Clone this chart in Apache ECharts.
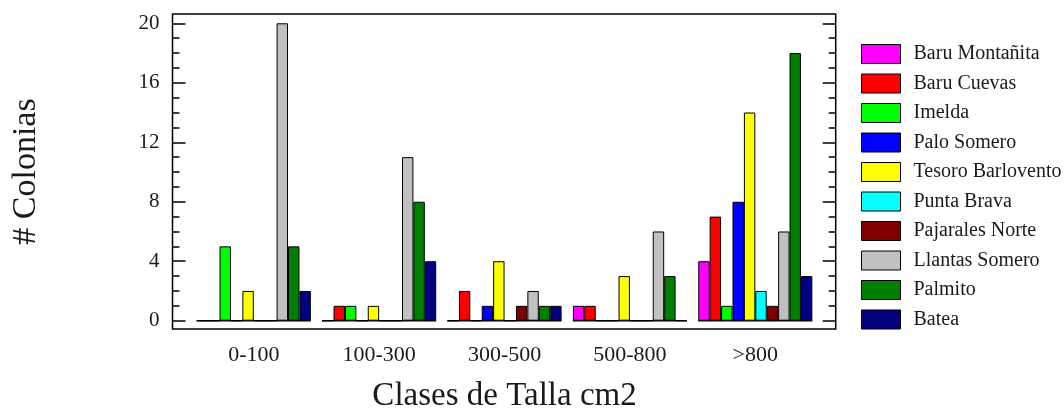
<!DOCTYPE html>
<html>
<head>
<meta charset="utf-8">
<script src="https://cdn.jsdelivr.net/npm/echarts@6/dist/echarts.min.js"></script>
<style>html,body{margin:0;padding:0;background:#fff;}#c{width:1064px;height:412px;}</style>
</head>
<body>
<div id="c"></div>
<script>
const categories = ['0-100', '100-300', '300-500', '500-800', '>800'];
const seriesNames = ['Baru Montañita', 'Baru Cuevas', 'Imelda', 'Palo Somero', 'Tesoro Barlovento', 'Punta Brava', 'Pajarales Norte', 'Llantas Somero', 'Palmito', 'Batea'];
const baruMontanita = [0, 0, 0, 1, 4];
const baruCuevas = [0, 1, 2, 1, 7];
const imelda = [5, 1, 0, 0, 1];
const paloSomero = [0, 0, 1, 0, 8];
const tesoroBarlovento = [2, 1, 4, 3, 14];
const puntaBrava = [0, 0, 0, 0, 2];
const pajaralesNorte = [0, 0, 1, 0, 1];
const llantasSomero = [20, 11, 2, 6, 6];
const palmito = [5, 8, 1, 3, 18];
const batea = [2, 4, 1, 0, 3];
const majorTicks = [0, 4, 8, 12, 16, 20];
const minorTicks = [1, 2, 3, 5, 6, 7, 9, 10, 11, 13, 14, 15, 17, 18, 19];
const colors = ['#ff00ff', '#ff0000', '#00ff00', '#0000ff', '#ffff00', '#00ffff', '#800000', '#c0c0c0', '#008000', '#000080'];

const values = [baruMontanita, baruCuevas, imelda, paloSomero, tesoroBarlovento, puntaBrava, pajaralesNorte, llantasSomero, palmito, batea];
const yMin = -0.558, yMax = 20.625;
const font = '"Liberation Serif", "Times New Roman", serif';
const txt = '#1a1a1a';

const chart = echarts.init(document.getElementById('c'), null, {renderer: 'canvas'});

function yAx(opts) {
  return Object.assign({
    type: 'value', gridIndex: 1, min: yMin, max: yMax,
    axisLine: {show: false}, splitLine: {show: false},
    axisLabel: {show: false}, axisTick: {show: false}
  }, opts);
}

const barSeries = seriesNames.map((n, i) => ({
  name: n, type: 'bar', xAxisIndex: 0, yAxisIndex: 0,
  data: values[i], barGap: '0%', barCategoryGap: '9%',
  itemStyle: {color: colors[i], borderColor: '#000', borderWidth: 1},
  emphasis: {disabled: true}, animation: false, z: 3
}));

const option = {
  animation: false,
  grid: [
    {left: 191.1, right: 246, top: 14, bottom: 83, show: false, containLabel: false, outerBoundsMode: 'none'},
    {left: 172.5, right: 228.3, top: 14, bottom: 83, show: true, borderColor: '#000', borderWidth: 1.5, backgroundColor: 'transparent', containLabel: false, outerBoundsMode: 'none'}
  ],
  xAxis: [
    {type: 'category', gridIndex: 0, data: categories, position: 'bottom',
     axisLine: {show: false, onZero: false}, axisTick: {show: false},
     axisLabel: {fontFamily: font, fontSize: 22, color: txt, margin: 15},
     name: 'Clases de Talla cm2', nameLocation: 'middle', nameGap: 51,
     nameTextStyle: {fontFamily: font, fontSize: 33, color: txt}},
    {type: 'value', gridIndex: 1, show: false, min: 0, max: 1}
  ],
  yAxis: [
    {type: 'value', gridIndex: 0, min: yMin, max: yMax, show: false},
    yAx({position: 'left',
      axisTick: {show: true, inside: true, length: 13, customValues: majorTicks, lineStyle: {color: '#000', width: 1.5}},
      axisLabel: {show: true, customValues: majorTicks, fontFamily: font, fontSize: 21, color: txt, margin: 13},
      name: '# Colonias', nameLocation: 'middle', nameRotate: 90, nameGap: 129,
      nameTextStyle: {fontFamily: font, fontSize: 34, color: txt}}),
    yAx({position: 'left',
      axisTick: {show: true, inside: true, length: 7, customValues: minorTicks, lineStyle: {color: '#000', width: 1.5}}}),
    yAx({position: 'right',
      axisTick: {show: true, inside: true, length: 13, customValues: majorTicks, lineStyle: {color: '#000', width: 1.5}}}),
    yAx({position: 'right',
      axisTick: {show: true, inside: true, length: 7, customValues: minorTicks, lineStyle: {color: '#000', width: 1.5}}})
  ],
  legend: {
    orient: 'vertical', left: 861, top: 44, padding: 0,
    itemWidth: 39, itemHeight: 19, itemGap: 9.5,
    data: seriesNames,
    icon: 'rect',
    itemStyle: {borderColor: '#000', borderWidth: 1},
    textStyle: {fontFamily: font, fontSize: 20, color: txt, lineHeight: 19, padding: [0, 0, 0, 8]},
    selectedMode: false
  },
  series: [
    {type: 'custom', xAxisIndex: 0, yAxisIndex: 0, z: 1, silent: true,
     data: categories.map((c, i) => [i, 0]),
     encode: {x: 0, y: 1},
     renderItem: function (params, api) {
       const p = api.coord([api.value(0), api.value(1)]);
       const bw = api.size([1, 0])[0] * 0.91;
       return {type: 'line', shape: {x1: p[0] - bw / 2, y1: p[1], x2: p[0] + bw / 2, y2: p[1]},
               style: {stroke: '#000', lineWidth: 1.5}};
     }}
  ].concat(barSeries)
};
chart.setOption(option);
</script>
</body>
</html>
